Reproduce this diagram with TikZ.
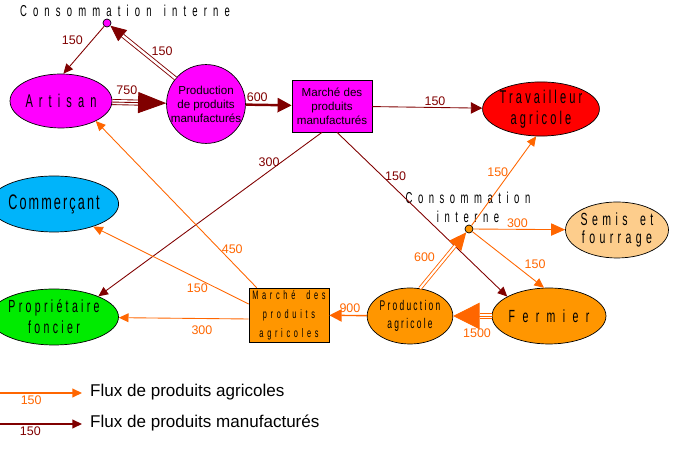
\documentclass[tikz,border=0pt]{standalone}
\usepackage{fontspec}
\setmainfont{Liberation Sans}
\newfontfamily\nodefont[FakeStretch=0.6]{Liberation Sans}
\usepackage{xcolor}
\usepackage{tikz}
\usetikzlibrary{shapes.geometric, arrows.meta, positioning, calc}
\definecolor{manuColor}{RGB}{128, 0, 0}
\definecolor{agriColor}{RGB}{255, 102, 0}
\definecolor{artisanColor}{RGB}{255, 0, 255}
\definecolor{ouvrierColor}{RGB}{255, 0, 0}
\definecolor{commerceColor}{RGB}{0, 180, 250}
\definecolor{foncierColor}{RGB}{0, 235, 0}
\definecolor{fermeColor}{RGB}{255, 150, 0}
\definecolor{semisColor}{RGB}{253, 205, 140}
% size, baselineskip, letter spacing
\newcommand{\pixfont}[3]{\nodefont\fontsize{#1}{#2}\selectfont\addfontfeature{LetterSpace=#3}}

\begin{document}
\begin{tikzpicture}[
    x=0.02cm, y=-0.02cm,
    agent/.style={ellipse, draw=black, inner sep=0pt, minimum width=2.06cm, minimum height=1.12cm, align=center},
    market/.style={rectangle, draw=black, inner sep=0pt, minimum width=1.6cm, align=center},
    puce/.style={circle, draw=black, inner sep=0pt, minimum size=0.16cm},
    manu/.style={draw=manuColor, line width=0.5pt, -{Triangle[length=5.5pt, width=5pt]}},
    agri/.style={draw=agriColor, line width=0.5pt, -{Triangle[length=5.5pt, width=5pt]}},
    twin/.style={line width=0.5pt, double=white, double distance=1.4pt},
    qtymanu/.style={text=manuColor, font=\fontsize{7.1}{8}\selectfont, inner sep=1pt},
    qtyagri/.style={text=agriColor, font=\fontsize{7.1}{8}\selectfont, inner sep=1pt}
]
\useasboundingbox (0,0) rectangle (681,465);

% Nodes
\node (titre) [font=\pixfont{9}{10}{39}] at (125,11) {Consommation\hspace{2pt} interne};
\node (cm) [puce, fill=artisanColor] at (107,23) {};
\node (artisan) [agent, fill=artisanColor, minimum width=2.04cm, minimum height=1.08cm, font=\pixfont{10.5}{12}{33}] at (61,101) {Artisan};
\node (prodman) [circle, draw=black, fill=artisanColor, minimum size=1.46cm, inner sep=0pt, align=center, font=\fontsize{6.6}{7.9}\selectfont] at (206,104) {Production\\de produits\\manufacturés};
\node (marchman) [market, fill=artisanColor, minimum height=1.04cm, font=\fontsize{6.6}{7.9}\selectfont] at (332,106) {Marché des\\produits\\manufacturés};
\node (ouvrier) [agent, fill=ouvrierColor, minimum width=2.08cm, minimum height=1.08cm, font=\pixfont{10.5}{12}{17}] at (541,109) {Travailleur\\agricole};
\node (ca) [puce, fill=fermeColor] at (469,229) {};
\node (cainterne) [align=center, font=\pixfont{9}{10.8}{35}] at (468,207) {Consommation\\interne};
\node (semis) [agent, fill=semisColor, font=\pixfont{10}{10.5}{25}] at (617,230) {Semis\hspace{3pt} et\\fourrage};
\node (commercant) [agent, fill=commerceColor, font=\pixfont{12}{13}{10}] at (54,204) {Commerçant};
\node (foncier) [agent, fill=foncierColor, font=\pixfont{10}{12}{19}] at (54,317) {Propriétaire\\foncier};
\node (marchagr) [market, fill=fermeColor, minimum height=1.08cm, font=\pixfont{7}{10.8}{30}] at (289,315) {Marché\hspace{3pt} des\\produits\\agricoles};
\node (prodagr) [agent, fill=fermeColor, minimum width=1.28cm, minimum height=1.12cm, font=\pixfont{8}{10.2}{16}] at (410,316) {Production\\agricole};
\node (fermier) [agent, fill=fermeColor, minimum width=2.08cm, font=\pixfont{10}{11}{42}] at (549,316) {Fermier};

% Flux de produits manufactures
\draw [manu] (cm) -- (artisan.85) node [qtymanu, pos=0.3, left=4pt] {150};
\draw [manu, -{Triangle[length=9pt, width=8pt]}] (prodman.140) -- (cm);
\draw [twin, draw=manuColor, shorten >=9pt] (prodman.140) -- (cm) node [qtymanu, pos=0.4, above right] {150};
\draw [twin, draw=manuColor, double distance=2.4pt, shorten >=15pt] (artisan) -- (prodman);
\draw [manu, -{Triangle[length=16pt, width=12pt]}] (artisan) -- (prodman) node [qtymanu, pos=0.27, above=3pt] {750};
\draw [manu, line width=1.4pt, -{Triangle[length=8pt, width=8pt]}] (prodman) -- (marchman) node [qtymanu, pos=0.25, above] {600};
\draw [manu, -{Triangle[length=6.5pt, width=6.5pt]}] (marchman) -- (ouvrier) node [qtymanu, pos=0.57, above] {150};
\draw [manu] ($(marchman.south)+(-10,0)$) -- (foncier.25) node [qtymanu, pos=0.18, left] {300};
\draw [manu] ($(marchman.south)+(5,0)$) -- (fermier.155) node [qtymanu, pos=0.27, right] {150};

% Flux de produits agricoles
\draw [agri] ($(marchagr.north west)+(8,0)$) -- (artisan.-30) node [qtyagri, pos=0.23, right] {450};
\draw [agri] ($(marchagr.west)+(0,-11)$) -- (commercant.-30) node [qtyagri, pos=0.33, below=2pt] {150};
\draw [agri] ($(marchagr.west)+(0,4)$) -- (foncier) node [qtyagri, pos=0.36, below=3pt] {300};
\draw [agri, line width=0.8pt, -{Triangle[length=7pt, width=7pt]}] (prodagr) -- (marchagr) node [qtyagri, pos=0.45, above] {900};
\draw [twin, draw=agriColor, double distance=2.4pt, shorten >=15pt] (fermier) -- (prodagr);
\draw [agri, -{Triangle[length=15pt, width=15pt]}] (fermier) -- (prodagr) node [qtyagri, pos=0.38, below=6pt] {1500};
\draw [agri, -{Triangle[length=10pt, width=9pt]}] (prodagr.70) -- (ca);
\draw [twin, draw=agriColor, double distance=1.2pt, shorten >=10pt] (prodagr.70) -- (ca) node [qtyagri, pos=0.56, left=5pt] {600};
\draw [agri] (ca) -- (ouvrier.-100) node [qtyagri, pos=0.6, left] {150};
\draw [agri, -{Triangle[length=8pt, width=7pt]}] (ca) -- (semis) node [qtyagri, pos=0.48, above] {300};
\draw [agri] (ca) -- (fermier.100) node [qtyagri, pos=0.7, above right] {150};

% Legende
\coordinate (agriA) at (0,393);
\coordinate (agriB) at (82,393);
\coordinate (manuA) at (0,424);
\coordinate (manuB) at (82,424);
\draw [agri, line width=0.8pt, -{Triangle[length=5.5pt, width=5pt]}] (agriA) -- (agriB) node [qtyagri, pos=0.38, below] {150};
\draw [manu, line width=0.8pt, -{Triangle[length=5.5pt, width=5pt]}] (manuA) -- (manuB) node [qtymanu, pos=0.37, below] {150};
\node (agrileg) [anchor=west, font=\fontsize{9.7}{11}\selectfont] at (84,392) {Flux de produits agricoles};
\node (manuleg) [anchor=west, font=\fontsize{9.7}{11}\selectfont] at (84,423) {Flux de produits manufacturés};

\end{tikzpicture}
\end{document}
